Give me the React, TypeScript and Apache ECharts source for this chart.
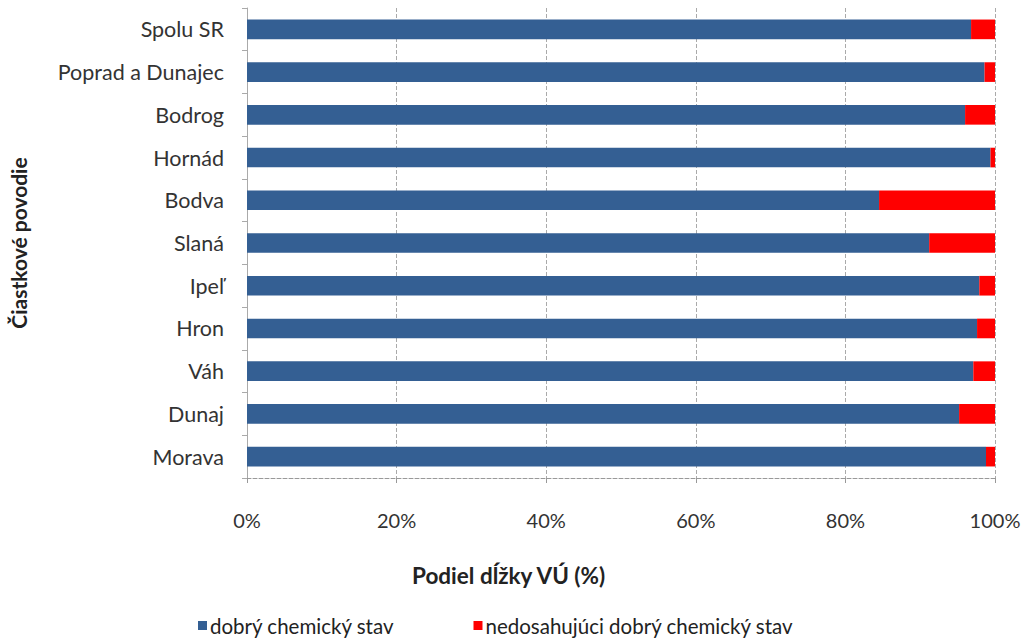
import React, { useEffect, useRef } from "react";
import * as echarts from "echarts";

const categories = ["Morava", "Dunaj", "Váh", "Hron", "Ipeľ", "Slaná", "Bodva", "Hornád", "Bodrog", "Poprad a Dunajec", "Spolu SR"];
const goodState = [98.8, 95.2, 97.1, 97.6, 97.9, 91.2, 84.5, 99.4, 96.0, 98.6, 96.8];
const notGoodState = [1.2, 4.8, 2.9, 2.4, 2.1, 8.8, 15.5, 0.6, 4.0, 1.4, 3.2];
const xTicks = [0, 20, 40, 60, 80, 100];
const seriesNames = ["dobrý chemický stav", "nedosahujúci dobrý chemický stav"];

const FONT = "Lato, 'Open Sans', sans-serif";

export default function App() {
  const ref = useRef<HTMLDivElement>(null);
  useEffect(() => {
    if (!ref.current) return;
    const chart = echarts.init(ref.current, undefined, { renderer: "svg" });
    chart.setOption({
      animation: false,
      backgroundColor: "#ffffff",
      grid: { left: 245, right: 30, top: 8, bottom: 164 },
      legend: {
        top: 610,
        left: 193,
        itemGap: 79,
        itemWidth: 9,
        itemHeight: 9,
        icon: "rect",
        textStyle: { fontFamily: FONT, fontSize: 20.5, lineHeight: 20, color: "#222", padding: [0, 0, 0, -2] },
        data: seriesNames,
      },
      xAxis: {
        type: "value",
        min: 0,
        max: xTicks[xTicks.length - 1],
        interval: 20,
        axisLabel: {
          formatter: (v: number) => v + "%",
          fontFamily: FONT,
          fontSize: 20,
          color: "#333",
          margin: 32,
        },
        axisLine: { show: true, lineStyle: { color: "#999", type: "dashed" } },
        axisTick: { show: true, length: 5, lineStyle: { color: "#999" } },
        splitLine: { show: true, lineStyle: { color: "#aaa", type: "dashed" } },
      },
      yAxis: {
        type: "category",
        data: categories,
        axisLabel: { fontFamily: FONT, fontSize: 21.5, color: "#333", margin: 23 },
        axisLine: { show: true, lineStyle: { color: "#aaa", type: "dashed" } },
        axisTick: { show: true, length: 5, lineStyle: { color: "#aaa" } },
        name: "Čiastkové povodie",
        nameLocation: "middle",
        nameRotate: 90,
        nameGap: 218,
        nameTextStyle: { fontFamily: FONT, fontSize: 21, fontWeight: "bold", color: "#222" },
      },
      graphic: [
        {
          type: "text",
          left: 412,
          top: 564,
          style: { text: "Podiel dĺžky VÚ (%)", font: "bold 22.5px " + FONT, fill: "#222" },
        },
      ],
      series: [
        {
          name: seriesNames[0],
          type: "bar",
          stack: "total",
          barWidth: "46%",
          data: goodState,
          itemStyle: { color: "#345f93" },
        },
        {
          name: seriesNames[1],
          type: "bar",
          stack: "total",
          barWidth: "46%",
          data: notGoodState,
          itemStyle: { color: "#ff0000" },
        },
      ],
    });
    return () => chart.dispose();
  }, []);
  return <div ref={ref} style={{ width: 1025, height: 642, position: "absolute", left: 0, top: 0 }} />;
}
